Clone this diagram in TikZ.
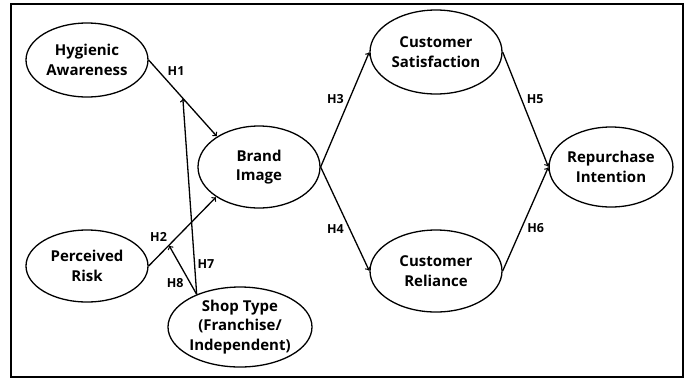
\documentclass[tikz,border=0pt]{standalone}
\usepackage{fontspec}
\setmainfont{Open Sans}
\usetikzlibrary{arrows,shapes.geometric}

\begin{document}
\begin{tikzpicture}[x=1pt,y=-1pt,->,>=to,shorten >=0.5pt,auto,line width=1.3pt,
	construct/.style={ellipse,draw=black,line width=1.3pt,inner sep=0pt,align=center,
		font=\fontsize{15}{19.5}\selectfont\bfseries},
	hyp/.style={font=\fontsize{12.5}{14}\selectfont\bfseries,inner sep=2pt}]

	\useasboundingbox (0,0) rectangle (687,381);
	\draw[-,line width=1.5pt] (11,4) rectangle (683,377);

	\node (hyg)	at	(87,60) [construct,minimum width=122pt,minimum height=74pt] {Hygienic\\Awareness};
	\node (risk)	at	(87,266) [construct,minimum width=122pt,minimum height=72pt] {Perceived\\Risk};
	\node (brand)	at	(259,167) [construct,minimum width=122pt,minimum height=82pt] {Brand\\Image};
	\node (shop)	at	(240,327) [construct,minimum width=144pt,minimum height=80pt] {Shop Type\\(Franchise/\\Independent)};
	\node (sat)	at	(436,52) [construct,minimum width=132pt,minimum height=84pt] {Customer\\Satisfaction};
	\node (rel)	at	(436,271) [construct,minimum width=132pt,minimum height=82pt] {Customer\\Reliance};
	\node (rep)	at	(611,167) [construct,minimum width=122pt,minimum height=80pt] {Repurchase\\Intention};

	\draw (hyg.east) to node[hyp,pos=0.24] {H1} coordinate[pos=0.5] (m1) (brand.144);
	\draw (risk.east) to node[hyp,pos=0.31] {H2} coordinate[pos=0.3] (m2) (brand.215);
	\draw (brand.east) to node[hyp,pos=0.53] {H3} (sat.west);
	\draw (brand.east) to node[hyp,pos=0.53,swap] {H4} (rel.west);
	\draw (sat.east) to node[hyp,pos=0.47] {H5} (rep.west);
	\draw (rel.east) to node[hyp,pos=0.48,swap] {H6} (rep.west);
	\draw (shop.143) to node[hyp,pos=0.12,swap] {H7} (m1);
	\draw (shop.143) to node[hyp,pos=0.38] {H8} (m2);

\end{tikzpicture}
\end{document}
